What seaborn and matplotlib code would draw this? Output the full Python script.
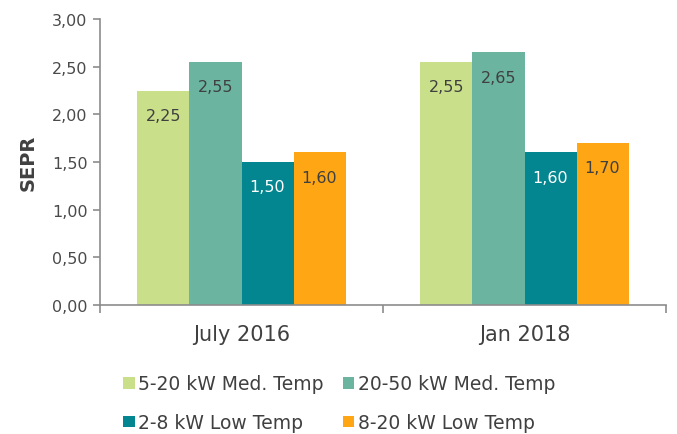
import matplotlib
matplotlib.use("Agg")
import matplotlib.pyplot as plt
import seaborn as sns
import pandas as pd

categories = ["July 2016", "Jan 2018"]
series = ["5-20 kW Med. Temp", "20-50 kW Med. Temp", "2-8 kW Low Temp", "8-20 kW Low Temp"]
values_5_20_med = [2.25, 2.55]
values_20_50_med = [2.55, 2.65]
values_2_8_low = [1.50, 1.60]
values_8_20_low = [1.60, 1.70]
yticks = [0.0, 0.5, 1.0, 1.5, 2.0, 2.5, 3.0]
colors = ["#C9DF8A", "#6AB4A0", "#038690", "#FFA614"]
label_colors = ["#404040", "#404040", "#FFFFFF", "#404040"]

all_vals = [values_5_20_med, values_20_50_med, values_2_8_low, values_8_20_low]
rows = []
for s, vals in zip(series, all_vals):
    for c, v in zip(categories, vals):
        rows.append({"Period": c, "Series": s, "SEPR": v})
df = pd.DataFrame(rows)

sns.set_style("white")
plt.rcParams["font.family"] = ["DejaVu Sans"]

fig = plt.figure(figsize=(6.77, 4.35), dpi=100)
ax = fig.add_axes([100/677, 1 - 306/435, 566/677, 286/435])

sns.barplot(data=df, x="Period", y="SEPR", hue="Series", hue_order=series,
            order=categories, palette=colors, width=0.735, saturation=1,
            linewidth=0, ax=ax, legend=True)

ax.set_ylim(0, 3)
ax.set_xlim(-0.5, 1.5)
ax.set_yticks(yticks)
ax.set_yticklabels([f"{t:.2f}".replace(".", ",") for t in yticks])
ax.tick_params(axis="y", labelsize=11.5, colors="#8C8C8C", labelcolor="#4A4A4A",
               length=5, width=1.2, direction="out", left=True, pad=4)
ax.tick_params(axis="x", labelsize=15, labelcolor="#404040", length=0, pad=14)
ax.set_xticks([-0.5, 0.5, 1.5], minor=True)
ax.tick_params(axis="x", which="minor", length=6, width=1.2, colors="#8C8C8C", bottom=True)

for side in ["top", "right"]:
    ax.spines[side].set_visible(False)
for side in ["left", "bottom"]:
    ax.spines[side].set_color("#8C8C8C")
    ax.spines[side].set_linewidth(1.2)

ax.set_xlabel("")
ax.set_ylabel("SEPR", fontsize=14, fontweight="bold", color="#404040", labelpad=10)

for cont, lc in zip(ax.containers, label_colors):
    for patch in cont:
        h = patch.get_height()
        ax.annotate(f"{h:.2f}".replace(".", ","),
                    (patch.get_x() + patch.get_width() / 2, h),
                    xytext=(0, -25), textcoords="offset pixels",
                    ha="center", va="center", fontsize=11.5, color=lc)

handles, labels = ax.get_legend_handles_labels()
ax.get_legend().remove()
order = [0, 2, 1, 3]
fig.legend([handles[i] for i in order], [labels[i] for i in order],
           loc="upper left", bbox_to_anchor=(114/677, 1 - 366/435),
           ncol=2, frameon=False, fontsize=13.5, labelcolor="#404040",
           handlelength=0.6, handleheight=0.6, handletextpad=0.2,
           columnspacing=1.0, labelspacing=1.05, borderpad=0)

fig.savefig("out.png", dpi=100)
